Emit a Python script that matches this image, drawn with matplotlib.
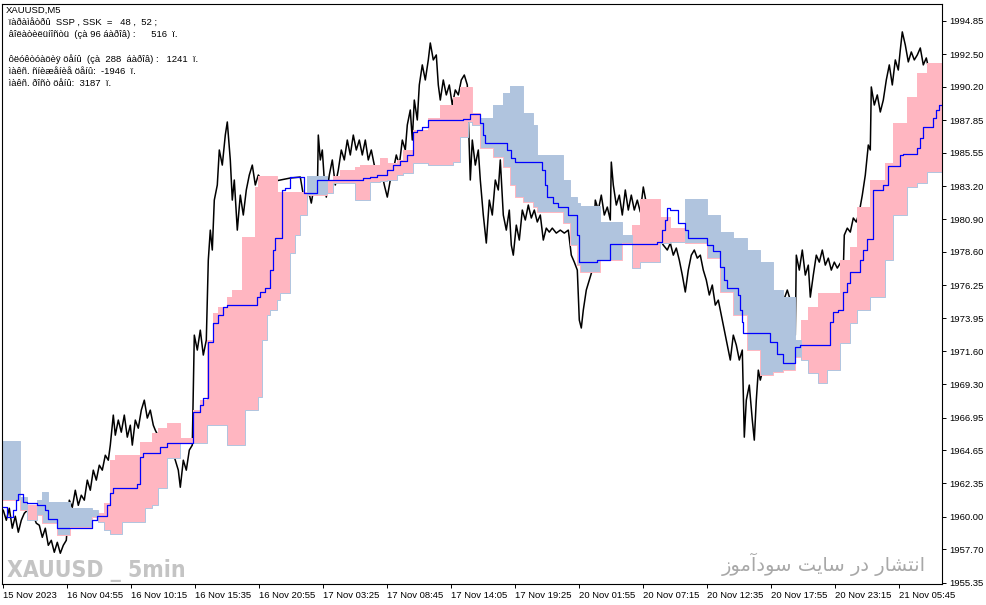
import numpy as np
import matplotlib.pyplot as plt
from matplotlib import font_manager

# x axis: bar number on the M5 chart, one tick every 64 bars
time_labels = ["15 Nov 2023", "16 Nov 04:55", "16 Nov 10:15", "16 Nov 15:35", "16 Nov 20:55",
               "17 Nov 03:25", "17 Nov 08:45", "17 Nov 14:05", "17 Nov 19:25", "20 Nov 01:55",
               "20 Nov 07:15", "20 Nov 12:35", "20 Nov 17:55", "20 Nov 23:15", "21 Nov 05:45"]
time_ticks = [0, 64, 128, 192, 256, 320, 384, 448, 512, 576, 640, 704, 768, 832, 896]

price_ticks = [1994.85, 1992.50, 1990.20, 1987.85, 1985.55, 1983.20, 1980.90, 1978.60, 1976.25,
               1973.95, 1971.60, 1969.30, 1966.95, 1964.65, 1962.35, 1960.00, 1957.70, 1955.35]

# close price (sampled bars)
close_idx = [0, 3, 6, 9, 12, 15, 18, 21, 24, 27, 30, 33, 36, 39, 42, 45, 48, 51, 54, 57, 60, 63,
             66, 69, 72, 75, 78, 81, 84, 87, 90, 93, 96, 99, 102, 105, 107, 110, 112, 115, 118, 121,
             124, 127, 129, 132, 135, 138, 141, 144, 147, 150, 152, 157, 162, 167, 172, 175, 177,
             180, 183, 186, 189, 191, 194, 197, 200, 203, 205, 207, 209, 211, 214, 216, 219, 222,
             224, 227, 229, 231, 234, 237, 240, 243, 246, 249, 252, 255, 259, 263, 267, 277, 287,
             297, 300, 302, 305, 308, 311, 314, 315, 317, 319, 321, 323, 326, 329, 332, 335, 338,
             341, 344, 347, 350, 353, 356, 359, 362, 365, 368, 371, 375, 378, 381, 384, 387, 390,
             393, 396, 399, 402, 404, 407, 409, 411, 414, 416, 419, 422, 425, 427, 430, 433, 435,
             437, 440, 443, 446, 449, 452, 455, 458, 461, 464, 467, 469, 472, 475, 477, 480, 483,
             486, 489, 492, 495, 497, 500, 503, 506, 508, 510, 513, 516, 519, 522, 525, 528, 531,
             534, 537, 540, 543, 546, 549, 553, 557, 561, 565, 568, 571, 574, 576, 578, 580, 583,
             586, 589, 592, 595, 598, 601, 604, 607, 608, 610, 613, 616, 619, 622, 625, 628, 631,
             634, 637, 640, 647, 654, 660, 664, 667, 670, 673, 676, 679, 682, 685, 688, 691, 694,
             697, 700, 703, 706, 709, 712, 715, 718, 721, 724, 727, 730, 733, 736, 739, 741, 743,
             746, 749, 751, 753, 755, 757, 767, 777, 784, 787, 790, 792, 793, 796, 799, 802, 805,
             807, 810, 813, 816, 819, 822, 825, 828, 831, 834, 837, 840, 841, 844, 847, 850, 853,
             856, 859, 862, 865, 867, 868, 871, 874, 877, 880, 883, 886, 889, 892, 895, 897, 899,
             902, 905, 908, 911, 914, 917, 920, 923, 925]
close_px = [1960.44, 1959.74, 1960.58, 1959.18, 1960.02, 1958.90, 1959.74, 1960.23, 1960.44, 1959.74,
            1960.09, 1959.53, 1959.39, 1958.54, 1959.18, 1957.98, 1958.33, 1957.49, 1958.19, 1957.42,
            1957.98, 1958.33, 1961.15, 1960.65, 1961.85, 1960.79, 1961.50, 1961.15, 1962.56, 1961.85,
            1963.26, 1962.56, 1963.61, 1963.26, 1964.31, 1963.96, 1965.02, 1967.13, 1965.72, 1966.78,
            1965.93, 1967.13, 1965.58, 1966.42, 1965.02, 1966.78, 1966.21, 1967.48, 1968.18, 1966.92,
            1967.48, 1966.42, 1966.07, 1965.37, 1964.67, 1965.02, 1963.96, 1963.26, 1962.06, 1963.96,
            1963.26, 1964.67, 1965.02, 1972.75, 1971.70, 1973.10, 1971.35, 1972.40, 1978.02, 1980.13,
            1978.73, 1982.24, 1983.30, 1985.76, 1984.70, 1986.81, 1987.73, 1985.06, 1982.24, 1983.65,
            1980.13, 1982.59, 1981.19, 1982.95, 1984.00, 1984.70, 1983.30, 1984.00, 1983.65, 1983.79,
            1983.51, 1983.65, 1983.79, 1983.86, 1982.59, 1981.54, 1982.95, 1982.03, 1983.30, 1982.59,
            1986.81, 1985.06, 1985.76, 1983.65, 1982.45, 1984.00, 1985.06, 1983.30, 1984.35, 1985.76,
            1985.06, 1986.46, 1985.41, 1986.81, 1985.76, 1986.46, 1985.41, 1986.46, 1985.06, 1985.76,
            1984.70, 1984.00, 1984.35, 1983.30, 1982.45, 1983.65, 1984.35, 1985.41, 1984.70, 1986.46,
            1985.76, 1987.52, 1988.57, 1986.46, 1989.27, 1987.87, 1990.33, 1991.74, 1990.68, 1992.09,
            1993.28, 1992.09, 1992.44, 1990.33, 1989.27, 1990.68, 1989.63, 1990.33, 1988.92, 1989.98,
            1989.63, 1990.68, 1991.03, 1990.33, 1983.65, 1986.46, 1984.70, 1985.76, 1983.65, 1981.19,
            1979.22, 1982.24, 1981.19, 1983.65, 1982.95, 1985.06, 1981.19, 1980.13, 1981.54, 1979.08,
            1978.37, 1980.48, 1979.43, 1981.54, 1980.84, 1981.89, 1980.98, 1981.54, 1980.70, 1981.19,
            1979.43, 1980.27, 1979.99, 1980.27, 1979.92, 1980.13, 1979.92, 1980.13, 1978.37, 1977.88,
            1977.32, 1973.81, 1973.25, 1974.51, 1975.92, 1976.62, 1977.32, 1982.24, 1981.54, 1982.59,
            1981.19, 1981.75, 1980.84, 1984.91, 1983.30, 1981.89, 1982.59, 1981.19, 1982.95, 1981.54,
            1982.59, 1981.54, 1982.24, 1981.40, 1983.16, 1980.48, 1979.78, 1979.08, 1978.73, 1979.22,
            1978.37, 1978.87, 1978.02, 1976.97, 1975.78, 1977.32, 1978.37, 1978.73, 1978.16, 1978.37,
            1977.32, 1976.62, 1975.57, 1976.27, 1974.86, 1975.21, 1974.16, 1973.10, 1972.05, 1971.00,
            1972.75, 1972.05, 1971.00, 1971.70, 1965.58, 1968.18, 1969.24, 1966.78, 1965.37, 1968.18,
            1970.29, 1969.59, 1972.40, 1974.51, 1975.92, 1975.21, 1973.81, 1972.75, 1978.37, 1977.32,
            1978.73, 1976.97, 1977.67, 1975.42, 1976.97, 1978.37, 1977.88, 1978.73, 1977.67, 1978.16,
            1977.32, 1977.88, 1977.46, 1977.81, 1977.32, 1979.78, 1980.27, 1979.99, 1980.98, 1980.70,
            1981.40, 1982.59, 1984.00, 1986.11, 1985.76, 1990.19, 1988.92, 1989.63, 1988.43, 1989.27,
            1990.68, 1991.74, 1990.33, 1992.09, 1991.38, 1992.79, 1994.06, 1993.14, 1991.95, 1992.65,
            1992.09, 1992.44, 1992.93, 1991.74, 1992.23, 1991.60]

# blue base line (step values, each holds until the next bar listed)
base_idx = [0, 4, 10, 13, 15, 20, 24, 34, 42, 45, 54, 89, 94, 104, 107, 110, 134, 137, 140, 157,
            164, 190, 197, 200, 205, 210, 215, 220, 224, 254, 257, 262, 267, 270, 272, 279, 282, 287,
            301, 314, 360, 367, 374, 384, 390, 397, 404, 410, 414, 419, 425, 460, 467, 477, 480, 482,
            504, 508, 512, 539, 542, 544, 550, 555, 565, 574, 576, 594, 607, 654, 659, 662, 664, 667,
            675, 682, 685, 704, 710, 717, 721, 724, 735, 737, 739, 740, 767, 774, 780, 792, 797, 827,
            830, 835, 840, 844, 847, 857, 860, 864, 870, 880, 885, 897, 900, 914, 917, 920, 930, 933,
            936, 939]
base_px = [1960.65, 1959.95, 1960.44, 1961.15, 1961.57, 1961.00, 1960.94, 1960.79, 1960.44, 1959.81,
           1959.18, 1959.74, 1960.02, 1960.79, 1961.64, 1961.99, 1962.27, 1964.17, 1964.45, 1964.87,
           1965.15, 1967.33, 1967.83, 1968.32, 1972.26, 1973.59, 1974.16, 1974.72, 1974.87, 1975.42,
           1975.77, 1976.05, 1977.32, 1978.73, 1979.57, 1982.95, 1983.09, 1983.86, 1982.73, 1983.65,
           1983.79, 1983.86, 1984.00, 1984.35, 1984.70, 1984.98, 1985.41, 1987.02, 1987.16, 1987.38,
           1987.87, 1987.94, 1988.29, 1987.66, 1986.81, 1986.25, 1985.76, 1985.20, 1984.91, 1984.35,
           1983.30, 1982.45, 1982.03, 1981.75, 1981.19, 1979.78, 1977.88, 1978.02, 1979.15, 1979.29,
           1980.13, 1980.84, 1981.68, 1981.54, 1980.63, 1980.13, 1979.57, 1979.08, 1978.66, 1977.53,
           1976.63, 1976.05, 1975.57, 1974.51, 1973.66, 1972.89, 1972.26, 1971.41, 1970.78, 1971.91,
           1972.05, 1973.66, 1974.37, 1974.51, 1975.77, 1976.41, 1977.18, 1978.02, 1978.73, 1979.50,
           1982.95, 1983.30, 1984.63, 1985.41, 1985.48, 1985.90, 1986.60, 1987.38, 1988.01, 1988.57,
           1988.92, 1988.92]

# cloud: span A / span B, each value holds from its bar to the next one
cloud_idx = [0, 17, 24, 34, 39, 45, 54, 67, 89, 95, 101, 107, 112, 119, 137, 142, 149, 155, 164, 177,
             190, 197, 204, 210, 215, 224, 229, 239, 242, 252, 255, 259, 264, 267, 274, 277, 287, 292,
             297, 304, 324, 330, 337, 352, 357, 367, 377, 384, 394, 400, 410, 425, 437, 450, 457, 465,
             469, 477, 490, 500, 507, 512, 520, 530, 534, 560, 567, 574, 577, 597, 619, 629, 637, 657,
             667, 682, 704, 717, 730, 744, 757, 770, 780, 792, 798, 805, 815, 824, 837, 847, 854, 867,
             882, 890, 904, 914, 924]
cloud_end = 939
span_a = [1961.15, 1960.44, 1960.79, 1960.09, 1959.53, 1959.53, 1958.69, 1959.25, 1959.95, 1960.23,
          1960.94, 1963.96, 1964.31, 1964.31, 1965.23, 1965.23, 1965.86, 1966.21, 1966.56, 1965.51,
          1967.48, 1968.18, 1972.40, 1974.30, 1974.72, 1975.42, 1975.91, 1979.64, 1979.64, 1983.16,
          1983.93, 1983.93, 1983.93, 1983.93, 1982.80, 1982.80, 1982.80, 1982.80, 1982.80, 1982.59,
          1983.65, 1983.93, 1984.35, 1984.56, 1984.70, 1984.70, 1985.20, 1984.84, 1985.06, 1985.76,
          1987.16, 1988.01, 1988.92, 1989.49, 1990.19, 1990.19, 1988.36, 1985.90, 1985.27, 1984.56,
          1983.30, 1982.45, 1982.10, 1981.75, 1981.40, 1980.63, 1979.08, 1977.67, 1977.18, 1978.02,
          1979.22, 1980.48, 1982.31, 1981.05, 1980.27, 1979.22, 1978.16, 1975.77, 1974.16, 1971.69,
          1969.94, 1970.15, 1970.29, 1971.20, 1973.80, 1974.72, 1975.70, 1975.70, 1978.02, 1978.94,
          1981.75, 1983.65, 1984.84, 1987.66, 1989.49, 1991.17, 1991.88]
span_b = [1965.30, 1961.36, 1959.74, 1961.15, 1961.71, 1961.00, 1961.00, 1960.58, 1960.44, 1959.60,
          1959.04, 1958.76, 1958.76, 1959.60, 1959.60, 1960.58, 1960.79, 1961.99, 1964.10, 1965.15,
          1965.15, 1965.15, 1966.42, 1966.42, 1966.42, 1965.01, 1965.01, 1965.01, 1967.48, 1967.48,
          1968.39, 1972.40, 1974.16, 1974.51, 1975.21, 1975.70, 1978.52, 1979.78, 1981.19, 1983.93,
          1982.73, 1983.44, 1983.44, 1982.24, 1982.24, 1983.51, 1983.58, 1983.65, 1984.00, 1984.14,
          1984.84, 1984.70, 1984.70, 1984.91, 1986.67, 1987.73, 1987.52, 1988.01, 1988.92, 1989.77,
          1990.26, 1990.26, 1988.36, 1987.52, 1985.41, 1983.65, 1982.45, 1982.03, 1981.82, 1980.70,
          1979.78, 1977.46, 1977.88, 1979.22, 1979.29, 1982.31, 1981.19, 1979.99, 1979.57, 1978.73,
          1977.88, 1975.91, 1975.42, 1972.40, 1970.99, 1970.08, 1969.37, 1970.29, 1972.19, 1973.59,
          1974.51, 1975.42, 1978.02, 1981.19, 1983.16, 1983.44, 1984.21]

info_lines = ["XAUUSD,M5",
              " ïàðàìåòðû  SSP , SSK  =   48 ,  52 ;",
              " âîëàòèëüíîñòü  (çà 96 áàðîâ) :      516  ï.",
              "",
              " ôëóêòóàöèÿ öåíû  (çà  288  áàðîâ) :   1241  ï.",
              " ìàêñ. ñíèæåíèå öåíû:  -1946  ï.",
              " ìàêñ. ðîñò öåíû:  3187  ï."]
watermark = "XAUUSD _ 5min"
# "انتشار در سایت سودآموز" in shaped presentation forms, visual order
site_note = "\ufeaf\ufeee\ufee3\ufe81\ufea9\ufeee\ufeb3 \ufe96\ufef3\ufe8e\ufeb3 \ufead\ufea9 \ufead\ufe8e\ufeb8\ufe98\ufee7\ufe8d"

PINK = '#FFB6C1'
STEEL = '#B0C4DE'
W, H = 987, 605

plt.rcParams['font.family'] = ['Liberation Sans', 'DejaVu Sans']
fig = plt.figure(figsize=(W / 100, H / 100), dpi=100)
ax = fig.add_axes([2 / W, 21 / H, 940 / W, 580 / H])

# price line sits under the cloud
ax.plot(close_idx, close_px, color='black', lw=1.1, zorder=1)

a = np.array(span_a)
b = np.array(span_b)
edges = np.array(cloud_idx + [cloud_end])
cols = np.where(a >= b, PINK, STEEL)
ax.bar(edges[:-1], np.abs(a - b), width=np.diff(edges), bottom=np.minimum(a, b), align='edge',
       color=cols, linewidth=0, antialiased=False, zorder=2)
ax.step(edges, np.r_[a, a[-1]], where='post', color=PINK, lw=0.7, zorder=2)
ax.step(edges, np.r_[b, b[-1]], where='post', color=STEEL, lw=0.7, zorder=2)

ax.step(base_idx, base_px, where='post', color='blue', lw=0.9, zorder=3)

ax.set_xlim(-1.3, 938.7)
ax.set_ylim(1955.26, 1996.02)

ax.yaxis.tick_right()
ax.set_yticks(price_ticks, [f"{v:.2f}" for v in price_ticks])
ax.set_xticks(time_ticks, time_labels)
for lab in ax.get_xticklabels():
    lab.set_horizontalalignment('left')
ax.tick_params(axis='both', length=3, width=0.7, labelsize=6.8, colors='black')
ax.tick_params(axis='x', pad=2)
ax.tick_params(axis='y', pad=2.5)
for sp in ax.spines.values():
    sp.set_linewidth(0.8)
    sp.set_color('black')

y = 10
for line in info_lines:
    if line:
        fig.text(6 / W, 1 - y / H, line, fontsize=6.8, va='center', ha='left')
    y += 12.3

# watermark: use a condensed bold face when one is installed
wm_font = font_manager.FontProperties(family='DejaVu Sans', stretch='condensed', weight='bold')
wm_size = 16.5 if 'Condensed' in font_manager.findfont(wm_font) else 15
fig.text(7 / W, 1 - 577 / H, watermark, fontproperties=wm_font, fontsize=wm_size, color='#C4C4C4',
         va='baseline', ha='left')
fig.text(926 / W, 1 - 571 / H, site_note, fontsize=14, color='#A8A8A8',
         family=['DejaVu Sans'], va='baseline', ha='right')

fig.savefig('out.png', dpi=100)
